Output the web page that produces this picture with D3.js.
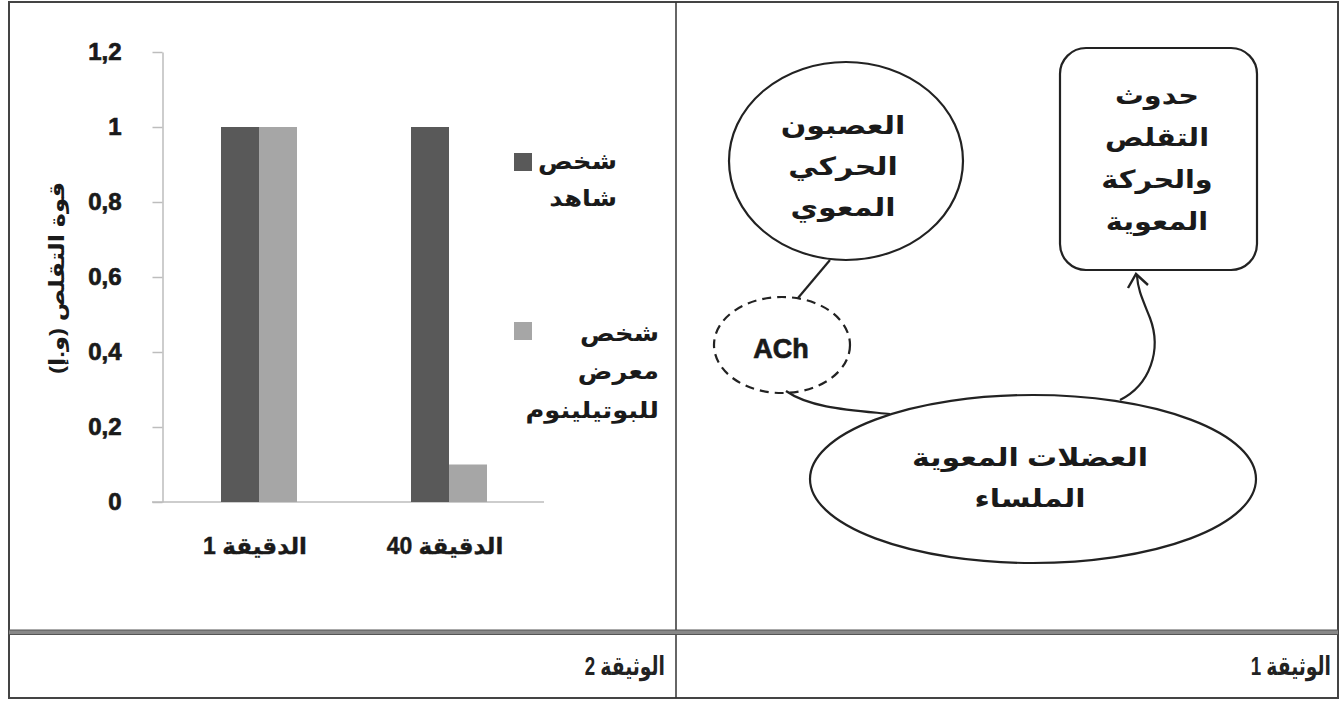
<!DOCTYPE html>
<html>
<head>
<meta charset="utf-8">
<script src="https://cdn.jsdelivr.net/npm/d3@7"></script>
<style>
  html, body { margin: 0; padding: 0; background: #fff; }
  svg { display: block; }
  text { font-family: "Liberation Sans", Arial, "DejaVu Sans", sans-serif; }
</style>
</head>
<body>
<svg id="chart" width="1343" height="701"></svg>
<script>
// ---------------- data ----------------
const categories = ["الدقيقة 1", "الدقيقة 40"];
const seriesNames = ["شخص شاهد", "شخص معرض للبوتيلينوم"];
const legendLines = [["شخص", "شاهد"], ["شخص", "معرض", "للبوتيلينوم"]];
const controlValues = [1, 1];
const exposedValues = [1, 0.1];
const yTickValues = [0, 0.2, 0.4, 0.6, 0.8, 1, 1.2];
const yTickLabels = ["0", "0,2", "0,4", "0,6", "0,8", "1", "1,2"];
const yTitle = "قوة التقلص (و.إ)";
const docTitles = ["الوثيقة 2", "الوثيقة 1"];
const neuronLines = ["العصبون", "الحركي", "المعوي"];
const effectLines = ["حدوث", "التقلص", "والحركة", "المعوية"];
const muscleLines = ["العضلات المعوية", "الملساء"];
const mediator = "ACh";
const seriesColors = ["#595959", "#a6a6a6"];

// ---------------- setup ----------------
const svg = d3.select("#chart");

function arText(g, x, yv, str, size, anchor, sx) {
  return g.append("text")
    .attr("x", 0).attr("y", 0)
    .attr("transform", `translate(${x},${yv}) scale(${sx},1)`)
    .attr("direction", "rtl").attr("text-anchor", anchor)
    .attr("font-size", size).text(str);
}

// frame
const frame = svg.append("g");
frame.append("rect").attr("x", 9).attr("y", 2).attr("width", 1329).attr("height", 696)
  .attr("fill", "none").attr("stroke", "#444").attr("stroke-width", 2);
frame.append("line").attr("x1", 676).attr("x2", 676).attr("y1", 2).attr("y2", 698)
  .attr("stroke", "#333").attr("stroke-width", 1.5);
frame.append("line").attr("x1", 9).attr("x2", 1338).attr("y1", 632).attr("y2", 632)
  .attr("stroke", "#888").attr("stroke-width", 4);
frame.append("line").attr("x1", 9).attr("x2", 1338).attr("y1", 630).attr("y2", 630)
  .attr("stroke", "#555").attr("stroke-width", 1);
frame.append("line").attr("x1", 9).attr("x2", 1338).attr("y1", 634.5).attr("y2", 634.5)
  .attr("stroke", "#555").attr("stroke-width", 1);

// bottom titles
const titleX = [665, 1331];
const tg = svg.append("g").attr("fill", "#222").attr("font-weight", "bold");
docTitles.forEach((t, i) => arText(tg, titleX[i], 675, t, 26, "start", 0.72));

// ---------------- bar chart ----------------
const y = d3.scaleLinear().domain([0, 1.2]).range([502, 52]);
const x0 = d3.scaleBand().domain(categories).range([164, 544]).padding(0);
const x1 = d3.scaleBand().domain(seriesNames).range([-38, 38]).padding(0);

const chart = svg.append("g");

// y axis
const yAxis = d3.axisLeft(y).tickValues(yTickValues)
  .tickFormat((d, i) => yTickLabels[i]).tickSizeInner(10).tickSizeOuter(0).tickPadding(31);
const yg = chart.append("g").attr("transform", "translate(162.5,0)").call(yAxis);
yg.select(".domain").attr("stroke", "#bdbdbd").attr("stroke-width", 1.5);
yg.selectAll(".tick line").attr("stroke", "#bdbdbd").attr("stroke-width", 1.5);
yg.selectAll(".tick text").attr("font-size", 24).attr("font-weight", "bold")
  .attr("fill", "#1a1a1a").attr("stroke", "#1a1a1a").attr("stroke-width", 0.7)
  .attr("font-family", "'Liberation Sans', Arial, sans-serif");

// x axis baseline
chart.append("line").attr("x1", 152).attr("x2", 544).attr("y1", y(0)).attr("y2", y(0))
  .attr("stroke", "#bdbdbd").attr("stroke-width", 1.5);

// bars
const seriesData = [controlValues, exposedValues];
categories.forEach((c, ci) => {
  const cx = x0(c) + x0.bandwidth() / 2;
  seriesNames.forEach((s, si) => {
    const v = seriesData[si][ci];
    chart.append("rect")
      .attr("x", cx + x1(s)).attr("width", x1.bandwidth())
      .attr("y", y(v)).attr("height", y(0) - y(v))
      .attr("fill", seriesColors[si]);
  });
});

// category labels
const catG = chart.append("g").attr("font-weight", "bold").attr("fill", "#1a1a1a")
  .attr("stroke", "#1a1a1a").attr("stroke-width", 0.4);
categories.forEach(c => arText(catG, x0(c) + x0.bandwidth() / 2 - 4, 554, c, 23, "middle", 1.0));

// y title
chart.append("text")
  .attr("transform", "translate(64,278) rotate(-90) scale(1.15,1)")
  .attr("direction", "rtl").attr("text-anchor", "middle")
  .attr("font-size", 21).attr("font-weight", "bold").attr("fill", "#1a1a1a")
  .text(yTitle);

// legend
const legendSquareY = [153, 322];
const legendTextX = [617, 659];
const legendTextY = [[169, 206], [341, 379, 418]];
const legG = chart.append("g").attr("font-weight", "bold").attr("fill", "#1a1a1a");
seriesNames.forEach((s, si) => {
  chart.append("rect").attr("x", 514).attr("y", legendSquareY[si])
    .attr("width", 18).attr("height", 18).attr("fill", seriesColors[si]);
  legendLines[si].forEach((ln, li) => {
    arText(legG, legendTextX[si], legendTextY[si][li], ln, 23, "start", 1.12);
  });
});

// ---------------- diagram (document 1) ----------------
const dg = svg.append("g").attr("fill", "none").attr("stroke", "#222").attr("stroke-width", 2.2);

dg.append("ellipse").attr("cx", 846).attr("cy", 161).attr("rx", 117).attr("ry", 99).attr("fill", "#fff");
dg.append("line").attr("x1", 830).attr("y1", 260).attr("x2", 798).attr("y2", 298);
dg.append("ellipse").attr("cx", 782).attr("cy", 345).attr("rx", 68).attr("ry", 48)
  .attr("fill", "#fff").attr("stroke-dasharray", "9,6");
dg.append("path").attr("d", "M786,391 C810,408 850,410 890,414");
dg.append("rect").attr("x", 1060).attr("y", 48).attr("width", 197).attr("height", 222)
  .attr("rx", 26).attr("ry", 26).attr("fill", "#fff");
dg.append("ellipse").attr("cx", 1033).attr("cy", 479).attr("rx", 223).attr("ry", 84).attr("fill", "#fff");
dg.append("path").attr("d", "M1120,400 C1150,385 1162,350 1150,318 C1142,298 1138,290 1137,276");
dg.append("path").attr("d", "M1128,288 L1136,274 L1148,285").attr("stroke-width", 2.4);

const txt = svg.append("g").attr("fill", "#1a1a1a").attr("font-weight", "bold");
neuronLines.forEach((t, i) => arText(txt, 843, 134 + i * 41, t, 25, "middle", 1.2));
effectLines.forEach((t, i) => arText(txt, 1157, 104 + i * 42, t, 25, "middle", 1.15));
muscleLines.forEach((t, i) => arText(txt, 1030, 466 + i * 41, t, 25, "middle", 1.2));
txt.append("text").attr("x", 781).attr("y", 358).attr("text-anchor", "middle")
  .attr("font-size", 27).attr("stroke", "#1a1a1a").attr("stroke-width", 0.7).text(mediator);
</script>
</body>
</html>
